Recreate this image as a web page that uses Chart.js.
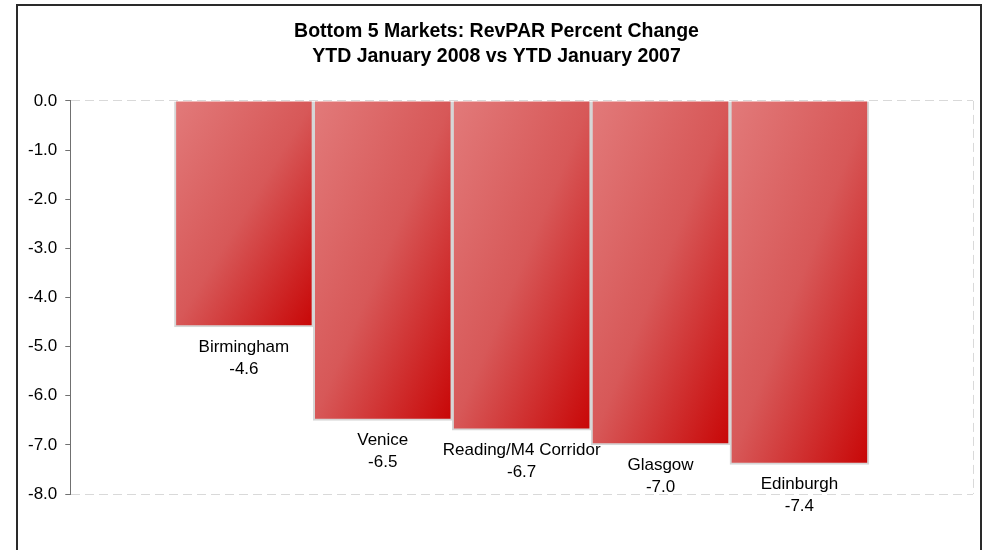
<!DOCTYPE html>
<html>
<head>
<meta charset="utf-8">
<script src="https://cdn.jsdelivr.net/npm/chart.js@4/dist/chart.umd.min.js"></script>
<style>
  html, body { margin: 0; padding: 0; background: #fff; overflow: hidden; width: 982px; height: 550px; }
  #wrap { position: relative; width: 982px; height: 550px; }
  #frame { position: absolute; left: 16px; top: 4px; width: 966px; height: 600px; box-sizing: border-box; border: 2px solid #2a2a2a; pointer-events: none; }
  canvas { position: absolute; left: 0; top: 0; }
</style>
</head>
<body>
<div id="wrap">
  <canvas id="c" width="982" height="550"></canvas>
  <div id="frame"></div>
</div>
<script>
// ---- Data ----
const titleLines = ['Bottom 5 Markets: RevPAR Percent Change', 'YTD January 2008 vs YTD January 2007'];
const categories = ['Birmingham', 'Venice', 'Reading/M4 Corridor', 'Glasgow', 'Edinburgh'];
const revparChange = [-4.6, -6.5, -6.7, -7.0, -7.4];
const yMin = -8;
const yMax = 0;
const yStep = 1;

const FONT = "'Liberation Sans', Arial, Helvetica, sans-serif";

const points = revparChange.map((v, i) => ({ x: i + 1, y: v }));

function barGradient(c) {
  const chart = c.chart;
  const xs = chart.scales.x, ys = chart.scales.y;
  if (!chart.chartArea || !xs || !ys || c.type !== 'data') return '#d85555';
  const xv = c.dataIndex + 1;
  const w = xs.getPixelForValue(xv + 0.5) - xs.getPixelForValue(xv - 0.5);
  const x0 = xs.getPixelForValue(xv) - w / 2;
  const y0 = ys.getPixelForValue(0);
  const y1 = ys.getPixelForValue(revparChange[c.dataIndex]);
  const h = Math.abs(y1 - y0);
  if (!isFinite(w) || !isFinite(h) || w <= 0 || h <= 0) return '#d85555';
  // contours parallel to the anti-diagonal: top-left light, bottom-right dark
  const t = 2 * w * h / (w * w + h * h);
  const g = chart.ctx.createLinearGradient(x0, y0, x0 + t * h, y0 + t * w);
  g.addColorStop(0, '#e27a7a');
  g.addColorStop(0.5, '#d75858');
  g.addColorStop(1, '#c80606');
  return g;
}

const plotFrame = {
  id: 'plotFrame',
  beforeDatasetsDraw(chart) {
    const { ctx, chartArea: a } = chart;
    ctx.save();
    ctx.strokeStyle = '#d9d9d9';
    ctx.lineWidth = 1;
    ctx.setLineDash([9, 5]);
    ctx.beginPath();
    ctx.moveTo(Math.round(a.right) + 0.5, a.top);
    ctx.lineTo(Math.round(a.right) + 0.5, a.bottom);
    ctx.stroke();
    ctx.restore();
  }
};

const barLabels = {
  id: 'barLabels',
  afterDatasetsDraw(chart) {
    const { ctx } = chart;
    const meta = chart.getDatasetMeta(0);
    ctx.save();
    ctx.fillStyle = '#000';
    ctx.font = '17px ' + FONT;
    ctx.textAlign = 'center';
    ctx.textBaseline = 'middle';
    meta.data.forEach((el, i) => {
      ctx.fillText(categories[i], el.x, el.y + 20);
      ctx.fillText(revparChange[i].toFixed(1), el.x, el.y + 42);
    });
    ctx.restore();
  }
};

new Chart(document.getElementById('c'), {
  type: 'bar',
  data: {
    datasets: [{
      data: points,
      backgroundColor: barGradient,
      borderColor: '#d6d6d6',
      borderWidth: 2,
      borderSkipped: 'start',
      barPercentage: 1,
      categoryPercentage: 1
    }]
  },
  options: {
    responsive: false,
    devicePixelRatio: 1,
    animation: false,
    layout: { padding: { left: 20, right: 9, top: 5, bottom: 56 } },
    plugins: {
      legend: { display: false },
      tooltip: { enabled: false },
      title: {
        display: true,
        text: titleLines,
        color: '#000',
        font: { family: FONT, size: 19.5, weight: 'bold', lineHeight: 1.28 },
        padding: { top: 14, bottom: 32 }
      }
    },
    scales: {
      x: {
        type: 'linear',
        min: -0.25,
        max: 6.25,
        offset: false,
        grid: { offset: false },
        display: false
      },
      y: {
        min: yMin,
        max: yMax,
        ticks: {
          stepSize: yStep,
          color: '#000',
          padding: 8,
          font: { family: FONT, size: 17 },
          callback: (v) => Number(v).toFixed(1)
        },
        grid: {
          color: (c) => (c.tick && (c.tick.value === yMin || c.tick.value === yMax)) ? '#d9d9d9' : 'rgba(0,0,0,0)',
          lineWidth: 1,
          tickColor: '#707070',
          tickLength: 5,
          tickWidth: 1
        },
        border: { display: true, color: '#707070', width: 1, dash: [9, 5] }
      }
    }
  },
  plugins: [plotFrame, barLabels]
});
</script>
</body>
</html>
